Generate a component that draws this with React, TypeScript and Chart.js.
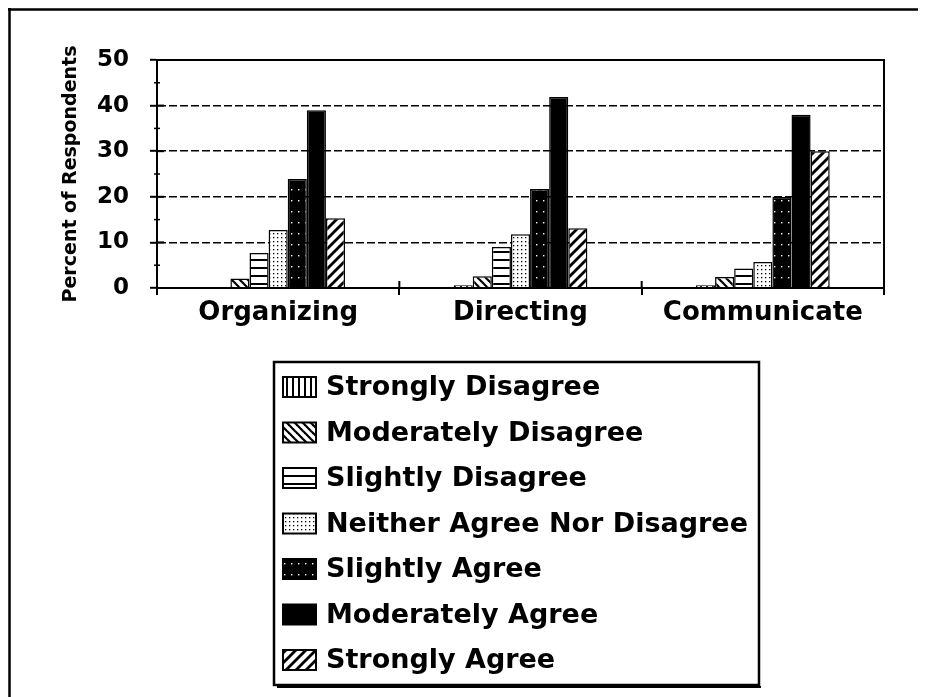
import React, { useEffect, useRef } from "react";
import { Chart, registerables } from "chart.js";

Chart.register(...registerables);

// ---- data ----
const categories = ["Organizing", "Directing", "Communicate"];
const seriesLabels = [
  "Strongly Disagree",
  "Moderately Disagree",
  "Slightly Disagree",
  "Neither Agree Nor Disagree",
  "Slightly Agree",
  "Moderately Agree",
  "Strongly Agree",
];
const stronglyDisagree = [0, 0.6, 0.6];
const moderatelyDisagree = [2.1, 2.6, 2.4];
const slightlyDisagree = [7.7, 9.0, 4.3];
const neitherAgreeNorDisagree = [12.7, 11.8, 5.7];
const slightlyAgree = [23.9, 21.7, 20.0];
const moderatelyAgree = [39.0, 41.9, 38.0];
const stronglyAgree = [15.3, 13.1, 30.0];
const yMin = 0;
const yMax = 50;
const yStep = 10;
const yTitle = "Percent of Respondents";

const FONT = "'DejaVu Sans', 'Liberation Sans', Arial, sans-serif";

type Kind = "vertical" | "backslash" | "horizontal" | "dots" | "darkdots" | "solid" | "slash";
const patternKinds: Kind[] = ["vertical", "backslash", "horizontal", "dots", "darkdots", "solid", "slash"];

function makePattern(kind: Kind): CanvasPattern | string {
  if (kind === "solid") return "#000000";
  const c = document.createElement("canvas");
  const ctx = c.getContext("2d")!;
  const line = (x1: number, y1: number, x2: number, y2: number, w: number) => {
    ctx.beginPath();
    ctx.lineWidth = w;
    ctx.strokeStyle = "#000";
    ctx.moveTo(x1, y1);
    ctx.lineTo(x2, y2);
    ctx.stroke();
  };
  if (kind === "vertical") {
    c.width = 6; c.height = 6;
    ctx.fillStyle = "#fff"; ctx.fillRect(0, 0, 6, 6);
    ctx.fillStyle = "#000"; ctx.fillRect(2, 0, 2, 6);
  } else if (kind === "horizontal") {
    c.width = 4; c.height = 8;
    ctx.fillStyle = "#fff"; ctx.fillRect(0, 0, 4, 8);
    ctx.fillStyle = "#000"; ctx.fillRect(0, 3, 4, 2);
  } else if (kind === "backslash") {
    const s = 8;
    c.width = s; c.height = s;
    ctx.fillStyle = "#fff"; ctx.fillRect(0, 0, s, s);
    line(-1, -1, s + 1, s + 1, 2.2);
    line(-2, s - 2, 2, s + 2, 2.2);
    line(s - 2, -2, s + 2, 2, 2.2);
  } else if (kind === "slash") {
    const s = 10;
    c.width = s; c.height = s;
    ctx.fillStyle = "#fff"; ctx.fillRect(0, 0, s, s);
    line(-1, s + 1, s + 1, -1, 2.8);
    line(-2, 2, 2, -2, 2.8);
    line(s - 2, s + 2, s + 2, s - 2, 2.8);
  } else if (kind === "dots") {
    c.width = 4; c.height = 4;
    ctx.fillStyle = "#fff"; ctx.fillRect(0, 0, 4, 4);
    ctx.fillStyle = "#000"; ctx.fillRect(1, 1, 1.3, 1.3);
  } else if (kind === "darkdots") {
    c.width = 7; c.height = 11;
    ctx.fillStyle = "#000"; ctx.fillRect(0, 0, 7, 11);
    ctx.fillStyle = "#fff"; ctx.fillRect(3, 5, 1.4, 1.4);
  }
  return c.getContext("2d")!.createPattern(c, "repeat")!;
}

const decorPlugin = {
  id: "decor",
  afterDraw(chart: any) {
    const { ctx, chartArea: a, scales, width, height } = chart;
    ctx.save();
    ctx.strokeStyle = "#000";
    ctx.setLineDash([]);

    // outer frame (top and left edges)
    ctx.lineWidth = 2.5;
    ctx.beginPath();
    ctx.moveTo(0, 1.5);
    ctx.lineTo(width, 1.5);
    ctx.moveTo(1.5, 0);
    ctx.lineTo(1.5, height);
    ctx.stroke();

    // plot area border
    ctx.lineWidth = 2;
    ctx.strokeRect(a.left, a.top, a.right - a.left, a.bottom - a.top);

    // y tick stubs inside + minor ticks
    const ys = scales.y;
    for (let v = yMin; v <= yMax; v += yStep / 2) {
      const py = ys.getPixelForValue(v);
      const major = v % yStep === 0;
      ctx.lineWidth = major ? 2 : 1.5;
      ctx.beginPath();
      ctx.moveTo(a.left - (major ? 0 : 3), py);
      ctx.lineTo(a.left + (major ? 7 : 3), py);
      ctx.stroke();
    }
    // x tick stubs inside
    const xs = scales.x;
    ctx.lineWidth = 2;
    for (let i = 0; i <= categories.length; i++) {
      const px = xs.getPixelForValue(i - 0.5);
      ctx.beginPath();
      ctx.moveTo(px, a.bottom);
      ctx.lineTo(px, a.bottom - 7);
      ctx.stroke();
    }

    // legend
    const box = { x: 266, y: 354, w: 485, h: 323 };
    ctx.lineWidth = 2.5;
    ctx.strokeRect(box.x, box.y, box.w, box.h);
    ctx.beginPath();
    ctx.lineWidth = 2;
    ctx.moveTo(box.x + 3, box.y + box.h + 2);
    ctx.lineTo(box.x + box.w + 2, box.y + box.h + 2);
    ctx.stroke();

    const rowStart = 379;
    const rowGap = 45.5;
    ctx.font = `bold 27px ${FONT}`;
    ctx.textBaseline = "middle";
    ctx.textAlign = "left";
    chart.data.datasets.forEach((ds: any, i: number) => {
      const cy = rowStart + i * rowGap;
      const ix = 275, iw = 33, ih = 20;
      ctx.fillStyle = ds.backgroundColor;
      ctx.fillRect(ix, cy - ih / 2, iw, ih);
      ctx.lineWidth = 2;
      ctx.strokeStyle = "#000";
      ctx.strokeRect(ix, cy - ih / 2, iw, ih);
      ctx.fillStyle = "#000";
      ctx.fillText(ds.label, 318, cy + 1);
    });
    ctx.restore();
  },
};

export default function App() {
  const ref = useRef<HTMLCanvasElement | null>(null);

  useEffect(() => {
    if (!ref.current) return;
    const seriesValues = [
      stronglyDisagree,
      moderatelyDisagree,
      slightlyDisagree,
      neitherAgreeNorDisagree,
      slightlyAgree,
      moderatelyAgree,
      stronglyAgree,
    ];
    const datasets = seriesLabels.map((label, i) => ({
      label,
      data: seriesValues[i],
      backgroundColor: makePattern(patternKinds[i]) as any,
      borderColor: "#000",
      borderWidth: 1.5,
      categoryPercentage: 0.552,
      barPercentage: 1.0,
    }));

    const chart = new Chart(ref.current, {
      type: "bar",
      data: { labels: categories, datasets },
      options: {
        responsive: false,
        animation: false,
        devicePixelRatio: 1,
        layout: { padding: { left: 0, right: 42, top: 52, bottom: 364 } },
        plugins: {
          legend: { display: false },
          tooltip: { enabled: false },
        },
        scales: {
          x: {
            grid: {
              offset: true,
              drawOnChartArea: false,
              drawTicks: true,
              tickLength: 7,
              color: "#000",
              lineWidth: 2,
            },
            border: { display: true, color: "#000", width: 2 },
            ticks: {
              color: "#000",
              font: { family: FONT, size: 26, weight: "bold" },
              padding: 3,
              maxRotation: 0,
              autoSkip: false,
            },
            afterFit: (s: any) => {
              s.height = 45;
            },
          },
          y: {
            min: yMin,
            max: yMax,
            ticks: {
              stepSize: yStep,
              color: "#000",
              font: { family: FONT, size: 23, weight: "bold" },
              padding: 21,
            },
            grid: {
              color: "#000",
              lineWidth: 1.6,
              drawTicks: true,
              tickLength: 7,
              tickColor: "#000",
              tickWidth: 2,
            },
            border: { display: true, color: "#000", width: 2, dash: [8, 3] },
            title: {
              display: true,
              text: yTitle,
              color: "#000",
              font: { family: FONT, size: 19, weight: "bold" },
              padding: { top: 52, bottom: 0 },
            },
            afterFit: (s: any) => {
              s.width = 149;
            },
          },
        },
      },
      plugins: [decorPlugin],
    });
    return () => chart.destroy();
  }, []);

  return (
    <div style={{ width: 918, height: 689, background: "#fff" }}>
      <canvas ref={ref} width={918} height={689} style={{ display: "block" }} />
    </div>
  );
}
